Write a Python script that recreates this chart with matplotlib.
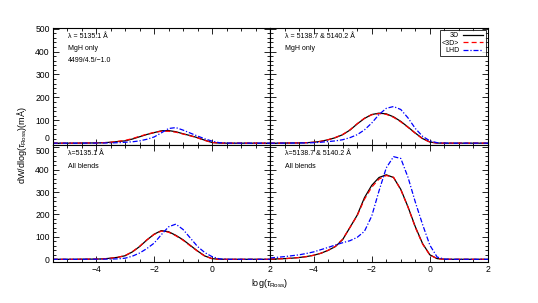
import matplotlib
matplotlib.use("Agg")
import matplotlib.pyplot as plt
import matplotlib.transforms as mtrans
from matplotlib.ticker import MultipleLocator

plt.rcParams['font.family'] = ['Liberation Sans', 'DejaVu Sans']
plt.rcParams['mathtext.fontset'] = 'custom'
plt.rcParams['mathtext.rm'] = 'Liberation Sans'
plt.rcParams['mathtext.it'] = 'Liberation Sans:italic'

# log(tau_Ross) grid, -5.5 .. 2.0 step 0.25
logtau = [-5.5, -5.25, -5.0, -4.75, -4.5, -4.25, -4.0, -3.75, -3.5, -3.25, -3.0,
          -2.75, -2.5, -2.25, -2.0, -1.75, -1.5, -1.25, -1.0, -0.75, -0.5,
          -0.25, 0.0, 0.25, 0.5, 0.75, 1.0, 1.25, 1.5, 1.75, 2.0]

# Top-left: 5135.1, MgH only
tl_3d   = [0,0,0,0,0.5,0.8,1,2,4,7,10,18,28,38,46,54,55,50,41,33,24,13,3,0.5,0,0,0,0,0,0,0]
tl_m3d  = [0,0,0,0,0.5,0.8,1,2,4,8,12,20,30,39,47,52,52,48,40,32,23,12,3,0.5,0,0,0,0,0,0,0]
tl_lhd  = [0,0,0,0,0,0.3,0.5,0.8,1,2,4,6,10,17,27,45,64,68,57,44,31,19,9,2,0.3,0,0,0,0,0,0]
# Top-right: 5138.7 & 5140.2, MgH only
tr_3d   = [0,0,0.5,0.7,1,2,4,8,15,24,37,57,84,108,125,131,128,115,95,70,44,20,5,0.5,0,0,0,0,0,0,0]
tr_m3d  = [0,0,0.5,0.7,1,2,4,8,15,25,38,58,85,109,124,129,126,113,93,69,43,19,5,0.5,0,0,0,0,0,0,0]
tr_lhd  = [0,0,0.3,0.5,0.8,1.2,2,4,7,10,15,24,37,58,88,125,152,160,147,110,64,30,10,2,0.3,0,0,0,0,0,0]
# Bottom-left: 5135.1, all blends
bl_3d   = [0,0,0,0,0.5,0.7,1,2,5,9,16,33,57,86,112,128,123,107,87,62,37,15,3,0.3,0,0,0,0,0,0,0]
bl_m3d  = [0,0,0,0,0.5,0.7,1,2,5,9,17,34,58,87,111,126,121,105,85,60,36,14,3,0.3,0,0,0,0,0,0,0]
bl_lhd  = [0,0,0,0,0,0.3,0.5,0.8,1,2,5,14,28,48,72,110,145,157,133,95,57,30,12,2,0.3,0,0,0,0,0,0]
# Bottom-right: 5138.7 & 5140.2, all blends
br_3d   = [1,2,3,5,8,12,18,27,40,57,88,142,197,275,330,365,377,365,312,233,145,70,20,3,0.5,0,0,0,0,0,0]
br_m3d  = [1,2,3,5,8,12,18,27,40,58,90,142,195,268,322,358,374,366,310,232,142,68,19,3,0.5,0,0,0,0,0,0]
br_lhd  = [6,9,12,16,20,26,33,43,53,64,74,83,98,125,193,305,408,458,450,365,255,155,63,10,1,0,0,0,0,0,0]

yticks = [0, 100, 200, 300, 400, 500]
ytick_labels = ['0', '100', '200', '300', '400', '500']
xticks = [-4, -2, 0, 2]
series_labels = ['3D', '<3D>', 'LHD']
panel_texts = [
    ['λ = 5135.1 Å', 'MgH only', '4499/4.5/−1.0'],
    ['λ = 5138.7 & 5140.2 Å', 'MgH only'],
    ['λ=5135.1 Å', 'All blends'],
    ['λ=5138.7 & 5140.2 Å', 'All blends'],
]
panels = [(tl_3d, tl_m3d, tl_lhd), (tr_3d, tr_m3d, tr_lhd),
          (bl_3d, bl_m3d, bl_lhd), (br_3d, br_m3d, br_lhd)]

W, H = 538, 303
fig = plt.figure(figsize=(W/100, H/100), dpi=100)

def rect(x0, y0, x1, y1):
    return [x0/W, 1 - y1/H, (x1-x0)/W, (y1-y0)/H]

rects = [rect(52.7, 27.5, 270, 145), rect(270, 27.5, 488, 145),
         rect(52.7, 145, 270, 262), rect(270, 145, 488, 262)]
ylims = [(-8, 505), (-8, 505), (-12, 510), (-12, 510)]
LS = 6.2

axes = []
for i, (r, data, texts) in enumerate(zip(rects, panels, panel_texts)):
    ax = fig.add_axes(r)
    axes.append(ax)
    y3d, ym3d, ylhd = data
    ax.plot(logtau, y3d, color='black', lw=0.9, label=series_labels[0])
    ax.plot(logtau, ym3d, color='red', lw=0.9, ls=(0, (4, 2.5)), label=series_labels[1])
    ax.plot(logtau, ylhd, color='blue', lw=0.9, ls=(0, (4, 1.5, 1, 1.5)), label=series_labels[2])
    ax.set_xlim(-5.5, 2.0)
    ax.set_ylim(*ylims[i])
    ax.set_xticks(xticks)
    labels = list(ytick_labels)
    if i == 0:
        labels[0] = ''      # drawn separately below, nudged up
    if i == 2:
        labels[-1] = ''     # drawn separately below, nudged down
    ax.set_yticks(yticks, labels)
    ax.xaxis.set_minor_locator(MultipleLocator(0.5))
    ax.yaxis.set_minor_locator(MultipleLocator(20))
    ax.tick_params(which='both', direction='in', top=True, right=True,
                   labelsize=LS, pad=2, width=0.6)
    ax.tick_params(which='major', length=4)
    ax.tick_params(which='minor', length=2)
    for s in ax.spines.values():
        s.set_linewidth(0.8)
    if i in (1, 3):
        ax.tick_params(labelleft=False)
    if i in (0, 1):
        ax.tick_params(labelbottom=False)
    for k, t in enumerate(texts):
        ax.text(0.07, 0.925 - k*0.105, t, transform=ax.transAxes,
                fontsize=5, va='center', ha='left')
    if i == 1:
        leg = ax.legend(loc='upper right', markerfirst=False, fontsize=5,
                        frameon=True, fancybox=False, edgecolor='black',
                        handlelength=3.0, handletextpad=0.5, borderpad=0.3,
                        labelspacing=0.1, borderaxespad=0.35)
        leg.get_frame().set_linewidth(0.7)

# the touching "0" (top panel) and "500" (bottom panel) labels
pad = mtrans.ScaledTranslation(-2.8/100, 0, fig.dpi_scale_trans)
t0 = mtrans.blended_transform_factory(axes[0].transAxes, axes[0].transData) + pad
axes[0].text(0, yticks[0], ytick_labels[0], transform=t0, ha='right', va='bottom',
             fontsize=LS)
t2 = mtrans.blended_transform_factory(axes[2].transAxes, axes[2].transData) + pad
axes[2].text(0, yticks[-1], ytick_labels[-1], transform=t2, ha='right', va='top',
             fontsize=LS)

fig.text(22/W, 1 - 145/H, r'dW/dlog($\tau_{\rm Ross}$)(mÅ)', rotation=90,
         ha='center', va='center', fontsize=6.5)
fig.text(270/W, 1 - 283/H, r'log($\tau_{\rm Ross}$)', ha='center', va='center',
         fontsize=6.5)

fig.savefig('out.png', dpi=100)
